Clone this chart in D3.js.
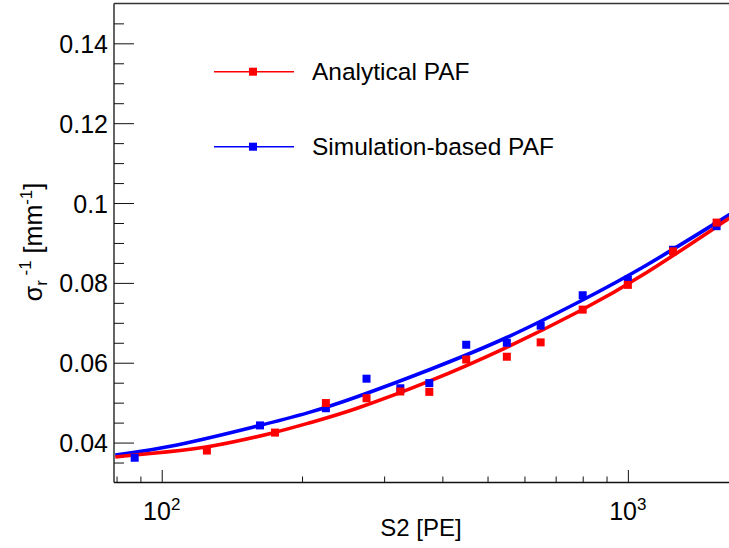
<!DOCTYPE html>
<html>
<head>
<meta charset="utf-8">
<script src="https://cdn.jsdelivr.net/npm/d3@7"></script>
<style>
  html, body { margin: 0; padding: 0; background: #fff; }
  svg { display: block; font-family: "Liberation Sans", Arial, Helvetica, sans-serif; }
</style>
</head>
<body>
<svg id="chart" width="729" height="548"></svg>
<script>
// ---- data ----
const seriesNames = ["Analytical PAF", "Simulation-based PAF"];

const redX = [125, 175, 225, 275, 325, 375, 450, 550, 650, 800, 1000, 1250, 1550];
const redY = [0.0380, 0.0425, 0.0499, 0.0511, 0.0528, 0.0527, 0.0608, 0.0615, 0.0651, 0.0733, 0.0795, 0.0879, 0.0951];

const blueX = [87.5, 162.5, 225, 275, 325, 375, 450, 550, 650, 800, 1000, 1250, 1550];
const blueY = [0.0362, 0.0443, 0.0486, 0.0560, 0.0536, 0.0549, 0.0645, 0.0650, 0.0693, 0.0769, 0.0808, 0.0883, 0.0942];

// fitted curves
const redFitX = [79.5, 104, 125, 175, 208, 253, 376, 550, 801, 1061, 1700];
const redFitY = [0.0364, 0.03775, 0.03867, 0.04243, 0.0450, 0.04776, 0.0552, 0.0637, 0.0732, 0.0812, 0.0972];

const blueFitX = [79.5, 104, 163, 208, 253, 376, 550, 801, 1061, 1700];
const blueFitY = [0.0369, 0.0387, 0.0443, 0.0475, 0.0507, 0.0582, 0.0660, 0.0757, 0.0832, 0.0980];

const yTicks = [0.04, 0.06, 0.08, 0.1, 0.12, 0.14];
const yTickLabels = ["0.04", "0.06", "0.08", "0.1", "0.12", "0.14"];
const yMinorTicks = [0.035, 0.045, 0.05, 0.055, 0.065, 0.07, 0.075, 0.085, 0.09, 0.095, 0.105, 0.11, 0.115, 0.125, 0.13, 0.135, 0.145];
const xTicks = [100, 1000];
const xTickBase = ["10", "10"];
const xTickExp = ["2", "3"];
const xMinorTicks = [80, 90, 200, 300, 400, 500, 600, 700, 800, 900];

// ---- layout ----
const L = 114, R = 740, T = 3.4, B = 482.5;
const svg = d3.select("#chart");

const x = d3.scaleLog().domain([79, 1740]).range([L, R]);
const y = d3.scaleLinear().domain([0.03, 0.15]).range([B, T]);

svg.append("defs").append("clipPath").attr("id", "clip")
  .append("rect").attr("x", L).attr("y", T).attr("width", R - L).attr("height", B - T);

const plot = svg.append("g").attr("clip-path", "url(#clip)");

const red = "#ff0000", blue = "#0000ff";
const line = d3.line().x(d => x(d[0])).y(d => y(d[1])).curve(d3.curveBasis);

plot.append("path").datum(d3.zip(blueFitX, blueFitY))
  .attr("d", line).attr("fill", "none").attr("stroke", blue).attr("stroke-width", 3.6);
plot.append("path").datum(d3.zip(redFitX, redFitY))
  .attr("d", line).attr("fill", "none").attr("stroke", red).attr("stroke-width", 3.6);

const ms = 8;
plot.selectAll("rect.blue").data(d3.zip(blueX, blueY)).enter().append("rect")
  .attr("class", "blue")
  .attr("x", d => x(d[0]) - ms / 2).attr("y", d => y(d[1]) - ms / 2)
  .attr("width", ms).attr("height", ms).attr("fill", blue);
plot.selectAll("rect.red").data(d3.zip(redX, redY)).enter().append("rect")
  .attr("class", "red")
  .attr("x", d => x(d[0]) - ms / 2).attr("y", d => y(d[1]) - ms / 2)
  .attr("width", ms).attr("height", ms).attr("fill", red);

// ---- axes ----
const axCol = "#111";
function clean(g) { g.select(".domain").remove(); g.selectAll("line").attr("stroke", axCol).attr("stroke-width", 1); }

svg.append("g").attr("transform", `translate(${L},0)`)
  .call(d3.axisRight(y).tickValues(yTicks).tickSize(20).tickFormat("")).call(clean);
svg.append("g").attr("transform", `translate(${L},0)`)
  .call(d3.axisRight(y).tickValues(yMinorTicks).tickSize(10).tickFormat("")).call(clean);

const yl = svg.append("g").attr("transform", `translate(${L},0)`)
  .call(d3.axisLeft(y).tickValues(yTicks).tickSize(0).tickPadding(6).tickFormat((d, i) => yTickLabels[i]));
yl.select(".domain").remove();
yl.selectAll("text").attr("font-size", 25).attr("fill", "#000")
  .attr("font-family", "Liberation Sans, Arial, sans-serif").attr("dy", "0.36em");

svg.append("g").attr("transform", `translate(0,${B})`)
  .call(d3.axisTop(x).tickValues(xTicks).tickSize(12.5).tickFormat("")).call(clean);
svg.append("g").attr("transform", `translate(0,${B})`)
  .call(d3.axisTop(x).tickValues(xMinorTicks).tickSize(6).tickFormat("")).call(clean);

xTicks.forEach((v, i) => {
  const t = svg.append("text").attr("x", x(v)).attr("y", 520)
    .attr("text-anchor", "middle").attr("font-size", 25).attr("fill", "#000");
  t.append("tspan").text(xTickBase[i]);
  t.append("tspan").attr("font-size", 17).attr("dy", -10).text(xTickExp[i]);
});

svg.append("line").attr("x1", L).attr("x2", L).attr("y1", T).attr("y2", B)
  .attr("stroke", axCol).attr("stroke-width", 1.3);
svg.append("line").attr("x1", L).attr("x2", 729).attr("y1", B).attr("y2", B)
  .attr("stroke", axCol).attr("stroke-width", 1.3);
svg.append("line").attr("x1", L).attr("x2", 729).attr("y1", T).attr("y2", T)
  .attr("stroke", "#333").attr("stroke-width", 1.5);

svg.append("text").attr("x", 421).attr("y", 536).attr("text-anchor", "middle")
  .attr("font-size", 24).attr("fill", "#000").text("S2 [PE]");

const yt = svg.append("text").attr("transform", "translate(42,242) rotate(-90)")
  .attr("text-anchor", "middle").attr("font-size", 25).attr("fill", "#000");
yt.append("tspan").text("σ");
yt.append("tspan").attr("font-size", 17).attr("dy", 5).text("r");
yt.append("tspan").attr("font-size", 17).attr("dy", -16).text(" -1");
yt.append("tspan").attr("dy", 11).text(" [mm");
yt.append("tspan").attr("font-size", 17).attr("dy", -10).text("-1");
yt.append("tspan").attr("dy", 10).text("]");

// ---- legend ----
const legY = [71.7, 146.7];
const legCol = [red, blue];
seriesNames.forEach((name, i) => {
  const g = svg.append("g");
  g.append("line").attr("x1", 214).attr("x2", 294).attr("y1", legY[i]).attr("y2", legY[i])
    .attr("stroke", legCol[i]).attr("stroke-width", 1.4);
  g.append("rect").attr("x", 253 - ms / 2).attr("y", legY[i] - ms / 2)
    .attr("width", ms).attr("height", ms).attr("fill", legCol[i]);
  g.append("text").attr("x", 312).attr("y", legY[i] + 8.5)
    .attr("font-size", 24.5).attr("fill", "#000").text(name);
});
</script>
</body>
</html>
